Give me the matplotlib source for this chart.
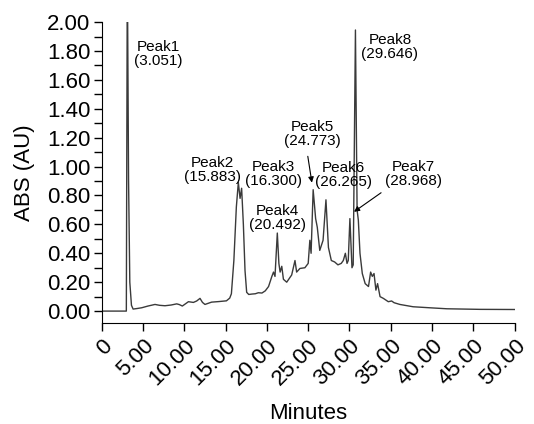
import numpy as np
import matplotlib
matplotlib.use("Agg")
import matplotlib.pyplot as plt
from matplotlib.ticker import MultipleLocator, FuncFormatter

# chromatogram trace (minutes, AU)
minutes = [0.0, 2.98, 3.1, 3.25, 3.4, 3.6, 3.8, 4.3, 4.84, 5.6, 6.45, 7.0, 7.66, 8.4,
           9.08, 9.4, 9.76, 10.5, 11.1, 11.5, 11.9, 12.2, 12.5, 13.3, 14.2, 15.1, 15.5,
           15.7, 16.0, 16.3, 16.54, 16.75, 16.94, 17.15, 17.35, 17.55, 17.8, 18.2, 18.6,
           18.96, 19.4, 19.8, 20.2, 20.6, 20.8, 20.98, 21.26, 21.45, 21.6, 21.8, 22.0,
           22.4, 23.0, 23.4, 23.6, 24.0, 24.6, 25.0, 25.2, 25.35, 25.6, 25.9, 26.1, 26.4,
           26.8, 27.15, 27.45, 27.8, 28.2, 28.6, 29.0, 29.25, 29.5, 29.7, 29.85, 30.05,
           30.3, 30.45, 30.72, 30.92, 31.07, 31.27, 31.55, 31.9, 32.3, 32.56, 32.76,
           32.97, 33.2, 33.4, 33.7, 34.1, 34.7, 35.1, 35.4, 36.1, 37.7, 39.7, 41.8,
           45.8, 50.0]
absorb = [0.0, 0.0, 2.4, 0.9, 0.2, 0.04, 0.014, 0.018, 0.023, 0.035, 0.046, 0.04, 0.037,
          0.042, 0.05, 0.045, 0.035, 0.065, 0.06, 0.07, 0.088, 0.06, 0.046, 0.062, 0.066,
          0.071, 0.09, 0.12, 0.35, 0.72, 0.89, 0.78, 0.85, 0.6, 0.28, 0.13, 0.115, 0.118,
          0.12, 0.127, 0.125, 0.14, 0.17, 0.24, 0.27, 0.24, 0.54, 0.33, 0.27, 0.31, 0.22,
          0.2, 0.25, 0.35, 0.27, 0.295, 0.3, 0.33, 0.49, 0.4, 0.84, 0.64, 0.58, 0.42, 0.49,
          0.77, 0.44, 0.35, 0.34, 0.32, 0.33, 0.35, 0.4, 0.33, 0.35, 0.64, 0.3, 0.32,
          1.945, 0.7, 0.63, 0.4, 0.26, 0.19, 0.17, 0.27, 0.24, 0.26, 0.145, 0.19, 0.1,
          0.088, 0.065, 0.07, 0.058, 0.046, 0.03, 0.023, 0.016, 0.012, 0.011]

# peak labels and where their text sits
peak_labels = ['Peak1\n(3.051)', 'Peak2\n(15.883)', 'Peak3\n(16.300)', 'Peak4\n(20.492)',
               'Peak5\n(24.773)', 'Peak6\n(26.265)', 'Peak7\n(28.968)', 'Peak8\n(29.646)']
label_x = [6.8, 13.4, 20.8, 21.3, 25.5, 29.3, 37.7, 34.9]
label_y = [1.78, 0.976, 0.948, 0.644, 1.225, 0.94, 0.948, 1.827]
# arrows: tip x, tip y, tail x, tail y
arrows = [(25.5, 0.87, 24.9, 1.09), (30.27, 0.676, 34.1, 0.83)]

plt.rcParams['font.family'] = ['Liberation Sans', 'DejaVu Sans']
fig = plt.figure(figsize=(5.34, 4.24), dpi=100)
ax = fig.add_axes([0.1905, 0.238, 0.7733, 0.710])

ax.plot(minutes, absorb, color='#3a3a3a', linewidth=1.0)

for txt, x, y in zip(peak_labels, label_x, label_y):
    ax.text(x, y, txt, ha='center', va='center', fontsize=11, linespacing=1.0)
for tx, ty, sx, sy in arrows:
    ax.annotate('', xy=(tx, ty), xytext=(sx, sy),
                arrowprops=dict(arrowstyle='-|>', color='black', lw=0.8, mutation_scale=8))

ax.set_xlim(0, 50)
ax.set_ylim(-0.083, 2.0)
ax.spines['top'].set_visible(False)
ax.spines['right'].set_visible(False)

ax.xaxis.set_major_locator(MultipleLocator(5))
ax.xaxis.set_major_formatter(FuncFormatter(lambda v, p: '0' if v == 0 else '%.2f' % v))
ax.set_yticks(np.arange(0, 2.01, 0.2))
ax.yaxis.set_minor_locator(MultipleLocator(0.1))
ax.yaxis.set_major_formatter(FuncFormatter(lambda v, p: '%.2f' % v))
ax.tick_params(axis='both', which='both', direction='out', length=6, width=1, labelsize=16)
ax.tick_params(axis='y', which='major', pad=2)
ax.tick_params(axis='x', which='major', pad=3)
plt.setp(ax.get_xticklabels(), rotation=45, ha='right', rotation_mode='anchor')

ax.set_xlabel('Minutes', fontsize=16, va='center')
ax.set_ylabel('ABS (AU)', fontsize=16, va='center')
ax.xaxis.set_label_coords(0.5, -0.299)
ax.yaxis.set_label_coords(-0.186, 0.5)

plt.savefig('out.png', dpi=100)
